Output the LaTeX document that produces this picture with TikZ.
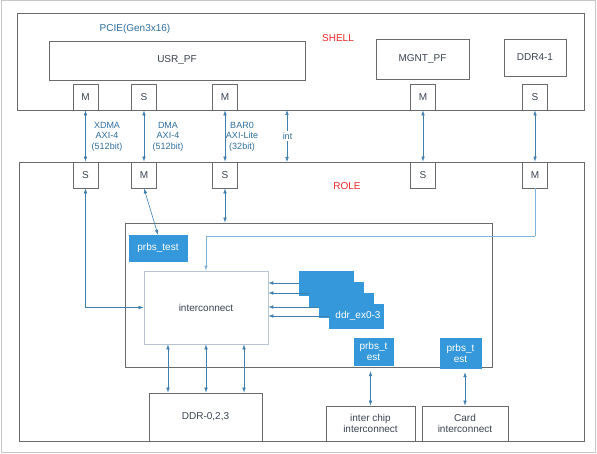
\documentclass[tikz,border=0pt]{standalone}
\usepackage{fontspec}
\setmainfont{Liberation Sans}
\usetikzlibrary{arrows.meta}
\definecolor{boxline}{HTML}{6A6A6A}
\definecolor{boxtext}{HTML}{3A4350}
\definecolor{lblue}{HTML}{2F6E9E}
\definecolor{arrcol}{HTML}{3F7FB0}
\definecolor{lightarr}{HTML}{7FB2D6}
\definecolor{fillblue}{HTML}{3598DB}
\definecolor{redtxt}{HTML}{EE2A2A}
\definecolor{icline}{HTML}{B8C4D2}
\definecolor{frame}{HTML}{C6C6C6}
\tikzset{
  box/.style={draw=boxline, line width=0.8pt, fill=white, inner sep=1pt, text=boxtext, font=\fontsize{10}{12}\selectfont, align=center},
  port/.style={box, minimum width=25pt, minimum height=26pt},
  bluebox/.style={draw=fillblue, fill=fillblue, inner sep=1pt, text=white, font=\fontsize{10}{11}\selectfont, align=center},
  lbl/.style={text=lblue, font=\fontsize{9}{10.5}\selectfont, align=center, inner sep=1pt},
  redlbl/.style={text=redtxt, font=\fontsize{10}{12}\selectfont, inner sep=0pt},
  conn/.style={draw=arrcol, line width=0.6pt, {Latex[length=5pt,width=3.6pt]}-{Latex[length=5pt,width=3.6pt]}},
  oneway/.style={draw=arrcol, line width=0.6pt, -{Latex[length=5pt,width=3.6pt]}},
}
\begin{document}
\begin{tikzpicture}[x=1pt,y=-1pt]
\useasboundingbox (0,0) rectangle (597,454);
\draw[frame, line width=1pt] (1,1) rectangle (595,452);

% SHELL
\node[box, minimum width=567pt, minimum height=97pt] (shell) at (300.5,61.5) {};
\node[redlbl] (shelllbl) at (338,38) {SHELL};
\node[lbl, font=\fontsize{10}{12}\selectfont] (pcie) at (135,29) {PCIE(Gen3x16)};
\node[box, minimum width=256pt, minimum height=39pt] (usr) at (177,60.5) {USR\_PF};
\node[box, minimum width=93pt, minimum height=40pt] (mgnt) at (422.5,59) {MGNT\_PF};
\node[box, minimum width=62pt, minimum height=37pt] (ddr41) at (535,57.5) {DDR4-1};
\node[port] (pa) at (85.5,97) {M};
\node[port] (pb) at (144,97) {S};
\node[port] (pc) at (225,97) {M};
\node[port] (pd) at (423,97) {M};
\node[port] (pe) at (535,97) {S};

% ROLE
\node[box, minimum width=565pt, minimum height=279pt] (role) at (301.5,301.5) {};
\node[redlbl] (rolelbl) at (347,186) {ROLE};
\node[port] (ra) at (85.5,175) {S};
\node[port] (rb) at (144,175) {M};
\node[port] (rc) at (225,175) {S};
\node[port] (rd) at (423,175) {S};
\node[port] (re) at (535,175) {M};

% shell-role links
\draw[conn] (pa.south) -- (ra.north);
\draw[conn] (pb.south) -- (rb.north);
\draw[conn] (pc.south) -- (rc.north);
\draw[conn] (pd.south) -- (rd.north);
\draw[conn] (pe.south) -- (re.north);
\coordinate (intA) at (287,110);
\coordinate (intB) at (287,162);
\draw[conn] (intA) -- (intB);
\node[lbl] (l1) at (107,136.5) {XDMA\\AXI-4\\(512bit)};
\node[lbl] (l2) at (168,136.5) {DMA\\AXI-4\\(512bit)};
\node[lbl] (l3) at (242,136.5) {BAR0\\AXI-Lite\\(32bit)};
\node[lbl, fill=white, inner sep=1.5pt] (l4) at (287.5,136) {int};

% inner area
\node[box, minimum width=367pt, minimum height=144pt] (inner) at (308.5,295) {};
\node[bluebox, minimum width=58pt, minimum height=26pt] (prbs1) at (158,248) {prbs\_test};
\node[box, draw=icline, minimum width=124pt, minimum height=73pt] (ic) at (206,307.5) {interconnect};
\node[bluebox, minimum width=54pt, minimum height=24pt] (d1) at (326,283) {};
\node[bluebox, minimum width=54pt, minimum height=24pt] (d2) at (336,294) {};
\node[bluebox, minimum width=54pt, minimum height=24pt] (d3) at (346,305) {};
\node[bluebox, minimum width=54pt, minimum height=24pt] (d4) at (356,316) {\hspace*{4pt}ddr\_ex0-3};
\node[bluebox, minimum width=39pt, minimum height=27pt, inner sep=0pt] (prbs2) at (373.5,351.5) {prbs\_t\\est};
\node[bluebox, minimum width=41pt, minimum height=30pt, inner sep=0pt] (prbs3) at (460.5,353) {prbs\_t\\est};

% bottom boxes
\node[box, minimum width=113pt, minimum height=48pt] (ddr023) at (205.5,417) {DDR-0,2,3};
\node[box, minimum width=89pt, minimum height=35pt, font=\fontsize{10}{11.5}\selectfont] (interchip) at (370.5,423.5) {inter chip\\interconnect};
\node[box, minimum width=86pt, minimum height=35pt, font=\fontsize{10}{11.5}\selectfont] (card) at (465,423.5) {Card\\interconnect};

% role internal connectors
\draw[conn] (ra.south) |- (ic.west);
\draw[conn] (rb.south) -- (prbs1.north);
\draw[conn] (rc.south) -- (rc.south |- inner.north);
\coordinate (turn) at (535,236);
\draw[draw=lightarr, line width=0.6pt] (re.south) -- (turn);
\draw[oneway, draw=lightarr] (turn) -| (ic.north);
\draw[oneway] (d1.west) -- (d1.west -| ic.east);
\draw[oneway] ([yshift=1pt]d2.west) -- ([yshift=1pt]d2.west -| ic.east);
\draw[oneway] ([yshift=-2pt]d3.west) -- ([yshift=-2pt]d3.west -| ic.east);
\draw[oneway] (d4.west) -- (d4.west -| ic.east);
\draw[conn] ([xshift=-38pt]ic.south) -- ([xshift=-38pt]ic.south |- ddr023.north);
\draw[conn] (ic.south) -- (ic.south |- ddr023.north);
\draw[conn] ([xshift=38pt]ic.south) -- ([xshift=38pt]ic.south |- ddr023.north);
\draw[conn] ([yshift=-6pt]prbs2.south -| interchip.north) -- (interchip.north);
\draw[conn] ([yshift=-4pt]prbs3.south -| card.north) -- (card.north);
\end{tikzpicture}
\end{document}
